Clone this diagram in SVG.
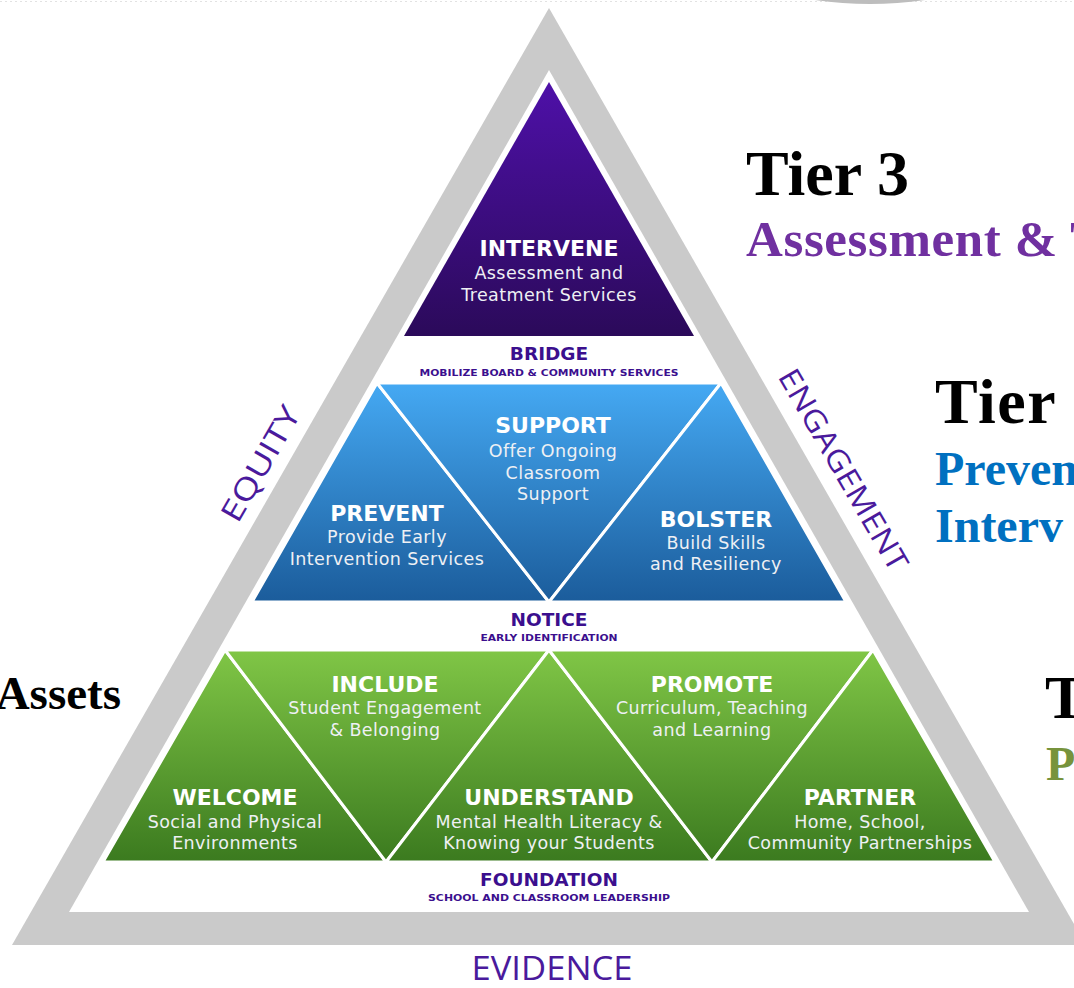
<svg xmlns="http://www.w3.org/2000/svg" width="1074" height="988" viewBox="0 0 1074 988">
<defs>
<linearGradient id="gPurple" gradientUnits="userSpaceOnUse" x1="0" y1="82" x2="0" y2="336">
<stop offset="0" stop-color="#4e10a8"/><stop offset="1" stop-color="#2b0a5a"/>
</linearGradient>
<linearGradient id="gBlue" gradientUnits="userSpaceOnUse" x1="0" y1="383" x2="0" y2="602">
<stop offset="0" stop-color="#45a9f3"/><stop offset="1" stop-color="#1b5c9b"/>
</linearGradient>
<linearGradient id="gGreen" gradientUnits="userSpaceOnUse" x1="0" y1="650" x2="0" y2="862">
<stop offset="0" stop-color="#80c646"/><stop offset="1" stop-color="#3b7a1f"/>
</linearGradient>
<style>
.tri{stroke:#ffffff;stroke-width:3;stroke-linejoin:miter}
.hd{font-family:"DejaVu Sans","Open Sans",sans-serif;font-weight:700;fill:#ffffff;text-anchor:middle;font-size:22px}
.bd{font-family:"DejaVu Sans","Open Sans",sans-serif;font-weight:400;fill:#eef0f4;text-anchor:middle;font-size:17.5px;letter-spacing:0.4px}
.lb{font-family:"DejaVu Sans","Open Sans",sans-serif;font-weight:700;fill:#3b0f8e;text-anchor:middle;font-size:18.5px}
.sm{font-family:"DejaVu Sans","Open Sans",sans-serif;font-weight:700;fill:#3b0f8e;text-anchor:middle;font-size:9.5px}
.side{font-family:"Open Sans","Liberation Sans",sans-serif;font-weight:400;fill:#4a1a9c;text-anchor:middle}
.tier{font-family:"Liberation Serif","DejaVu Serif",serif;font-weight:700}
</style>
</defs>
<rect width="1074" height="988" fill="#ffffff"/>
<line x1="0" y1="1.5" x2="1074" y2="1.5" stroke="#e2e2e2" stroke-width="1" stroke-dasharray="2,3"/>
<path d="M815,0 Q870,8 925,0 Z" fill="#bdbdbd"/>

<g id="frame">
<polygon points="549,8 12,945 1086,945" fill="#cacaca"/>
<polygon points="549,70 69,912 1029,912" fill="#ffffff"/>
</g>

<g id="intervene">
<polygon points="549,82 404,336 694,336" fill="url(#gPurple)"/>
<text class="hd" x="549" y="256">INTERVENE</text>
<text class="bd" x="549" y="279">Assessment and</text>
<text class="bd" x="549" y="301">Treatment Services</text>
</g>

<g id="bridge">
<text class="lb" x="549" y="360">BRIDGE</text>
<text class="sm" x="549" y="376" textLength="259" lengthAdjust="spacingAndGlyphs">MOBILIZE BOARD &amp; COMMUNITY SERVICES</text>
</g>

<g id="prevent">
<polygon class="tri" points="377,383 252,602 549,602" fill="url(#gBlue)"/>
<text class="hd" x="387" y="521">PREVENT</text>
<text class="bd" x="387" y="543">Provide Early</text>
<text class="bd" x="387" y="565">Intervention Services</text>
</g>
<g id="support">
<polygon class="tri" points="377,383 721,383 549,602" fill="url(#gBlue)"/>
<text class="hd" x="553" y="433">SUPPORT</text>
<text class="bd" x="553" y="457">Offer Ongoing</text>
<text class="bd" x="553" y="479">Classroom</text>
<text class="bd" x="553" y="500">Support</text>
</g>
<g id="bolster">
<polygon class="tri" points="721,383 549,602 846,602" fill="url(#gBlue)"/>
<text class="hd" x="716" y="527">BOLSTER</text>
<text class="bd" x="716" y="549">Build Skills</text>
<text class="bd" x="716" y="570">and Resiliency</text>
</g>

<g id="notice">
<text class="lb" x="549" y="626">NOTICE</text>
<text class="sm" x="549" y="641" font-size="9" textLength="137" lengthAdjust="spacingAndGlyphs">EARLY IDENTIFICATION</text>
</g>

<g id="welcome">
<polygon class="tri" points="225,650 103,862 386,862" fill="url(#gGreen)"/>
<text class="hd" x="235" y="805">WELCOME</text>
<text class="bd" x="235" y="828">Social and Physical</text>
<text class="bd" x="235" y="849">Environments</text>
</g>
<g id="include">
<polygon class="tri" points="225,650 549,650 386,862" fill="url(#gGreen)"/>
<text class="hd" x="385" y="692">INCLUDE</text>
<text class="bd" x="385" y="714">Student Engagement</text>
<text class="bd" x="385" y="736">&amp; Belonging</text>
</g>
<g id="understand">
<polygon class="tri" points="549,650 386,862 712,862" fill="url(#gGreen)"/>
<text class="hd" x="549" y="805">UNDERSTAND</text>
<text class="bd" x="549" y="828">Mental Health Literacy &amp;</text>
<text class="bd" x="549" y="849">Knowing your Students</text>
</g>
<g id="promote">
<polygon class="tri" points="549,650 873,650 712,862" fill="url(#gGreen)"/>
<text class="hd" x="712" y="692">PROMOTE</text>
<text class="bd" x="712" y="714">Curriculum, Teaching</text>
<text class="bd" x="712" y="736">and Learning</text>
</g>
<g id="partner">
<polygon class="tri" points="873,650 712,862 995,862" fill="url(#gGreen)"/>
<text class="hd" x="860" y="805">PARTNER</text>
<text class="bd" x="860" y="828">Home, School,</text>
<text class="bd" x="860" y="849">Community Partnerships</text>
</g>

<g id="foundation">
<text class="lb" x="549" y="886">FOUNDATION</text>
<text class="sm" x="549" y="901" textLength="242" lengthAdjust="spacingAndGlyphs">SCHOOL AND CLASSROOM LEADERSHIP</text>
</g>

<g id="sides">
<text class="side" font-size="30" transform="translate(261,464) rotate(-60)" y="10" textLength="128" lengthAdjust="spacingAndGlyphs">EQUITY</text>
<text class="side" font-size="30" transform="translate(843,470) rotate(60)" y="10" textLength="228" lengthAdjust="spacingAndGlyphs">ENGAGEMENT</text>
<text class="side" font-size="32" x="552" y="980" textLength="161" lengthAdjust="spacingAndGlyphs">EVIDENCE</text>
</g>

<g id="tiers">
<text class="tier" x="746" y="195" font-size="64" fill="#000000">Tier 3</text>
<text class="tier" x="746" y="256" font-size="51" fill="#7030a0" letter-spacing="0.6">Assessment &amp; T</text>
<text class="tier" x="935" y="423" font-size="64" fill="#000000" letter-spacing="1.5">Tier 2</text>
<text class="tier" x="935" y="485" font-size="48" fill="#0070c0">Preven</text>
<text class="tier" x="935" y="542" font-size="48" fill="#0070c0">Interv</text>
<text class="tier" x="1045" y="718" font-size="62" fill="#000000">T</text>
<text class="tier" x="1046" y="780" font-size="48" fill="#77933c">P</text>
<text class="tier" x="121" y="709" font-size="47" fill="#000000" text-anchor="end">Assets</text>
</g>
</svg>
